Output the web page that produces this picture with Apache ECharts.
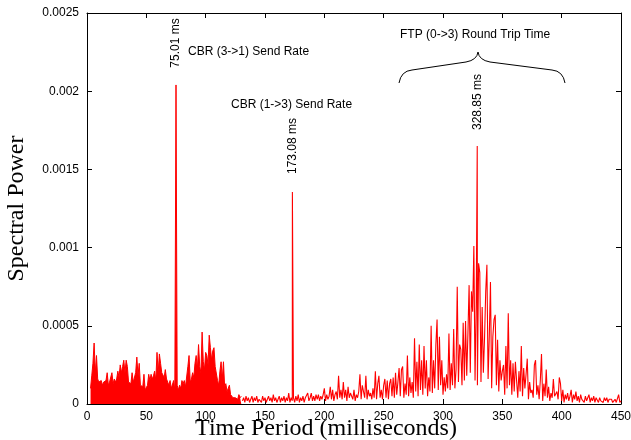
<!DOCTYPE html>
<html><head><meta charset="utf-8">
<script src="https://cdn.jsdelivr.net/npm/echarts@6.0.0/dist/echarts.min.js"></script>
<style>html,body{margin:0;padding:0;background:#fff}#c{width:631px;height:440px}</style>
</head><body><div id="c"></div>
<script>
// Low band (dense, filled region): time period from lowStart ms, 1 ms apart; power in units of 1e-5
const lowStart = 3;
const lowBandE5 = [
  10,18,26,39,20,31,16,14,
  13,15,12,14,13,15,20,12,14,13,
  20,13,16,14,16,21,17,25,20,24,
  28,20,28,24,14,15,13,20,14,15,
  20,30,18,26,12,13,11,19,9,10,
  12,19,15,19,16,18,21,15,33,20,
  32,26,20,21,17,22,16,15,12,15,
  10,11,15,9,10,12,9,12,10,15,
  13,15,11,12,24,31,14,16,20,17,
  26,31,22,38,24,20,46,27,22,33,
  31,25,44,36,28,34,36,24,25,15,
  12,21,27,16,27,11,13,8,8,12,
  6,6,4,5,4,5,3,6,4,5
];
// High band (line region): time period from highStart ms, 1 ms apart; power in units of 1e-5
const highStart = 131;
const highBandE5 = [
  2,4,1,5,2,4,1,3,5,1,
  4,2,5,1,3,4,1,5,2,4,
  1,3,5,2,4,1,6,2,4,1,
  3,5,1,4,2,5,1,4,2,7,
  1,4,2,4,1,5,2,6,1,4,
  2,5,1,4,5,7,2,4,7,2,
  5,2,6,3,6,2,5,3,6,10,
  2,6,3,5,11,3,9,2,6,8,
  3,18,4,9,3,14,4,9,2,11,
  4,7,8,3,9,2,6,4,8,19,
  3,12,11,4,18,3,9,5,7,3,
  10,4,21,3,13,18,4,9,3,12,
  16,4,15,3,13,16,5,17,4,20,
  6,14,23,5,22,24,4,13,6,31,
  5,17,7,14,4,42,8,27,5,38,
  9,28,6,37,10,28,5,17,8,50,
  7,28,10,38,54,9,43,12,28,6,
  17,8,19,10,45,9,26,12,48,10,
  22,75,14,38,35,12,52,15,53,18,
  45,76,20,72,59,101,15,64,12,90,
  84,14,62,20,42,72,89,16,43,78,
  10,43,54,57,12,41,8,28,15,21,
  25,6,37,10,58,12,28,6,26,8,
  27,15,4,21,8,37,5,23,10,19,
  29,3,14,7,9,4,25,28,6,12,
  3,15,32,2,13,5,22,4,11,2,
  7,4,16,5,4,8,3,17,13,2,
  9,1,6,3,7,2,5,9,1,6,
  3,8,2,5,1,6,3,4,1,5,
  2,4,6,1,4,2,5,1,4,3,
  1,4,2,3,1,4,2,4,1,3,
  2,3,1,2,3,1,2,6,1,2
];
// Sharp spectral lines (ms, power in units of 1e-5)
const spikeTimes = [75.01, 173.08, 328.85];
const spikePowerE5 = [204, 135.6, 165];
const spikeLabels = ['75.01 ms', '173.08 ms', '328.85 ms'];
// Axis ticks
const xTicks = [0, 50, 100, 150, 200, 250, 300, 350, 400, 450];
const yTickLabels = ['0', '0.0005', '0.001', '0.0015', '0.002', '0.0025'];

function band(start, arr) {
  const pts = arr.map((v, i) => [start + i, v * 1e-5]);
  const end = start + arr.length - 1;
  spikeTimes.forEach((t, i) => { if (t >= start && t <= end) pts.push([t, spikePowerE5[i] * 1e-5]); });
  pts.sort((a, b) => a[0] - b[0]);
  return pts;
}
const lowPts = band(lowStart, lowBandE5);
const highPts = band(highStart, highBandE5);

const sans = 'Liberation Sans, Arial, sans-serif';
const serif = 'Liberation Serif, Times New Roman, serif';
const axisCommon = {
  axisLine: { show: true, onZero: false, lineStyle: { color: '#000', width: 1 } },
  axisTick: { show: true, inside: true, length: 5, lineStyle: { color: '#000', width: 1 } },
  splitLine: { show: false }
};
const xBase = Object.assign({ type: 'value', min: xTicks[0], max: xTicks[xTicks.length - 1], interval: xTicks[1] - xTicks[0] }, axisCommon);
const yBase = Object.assign({ type: 'value', min: 0, max: 0.0025, interval: 0.0005 }, axisCommon);

const chart = echarts.init(document.getElementById('c'), null, { renderer: 'canvas' });
const txt = (text, x, y) => ({
  type: 'text', x: x, y: y,
  style: { text: text, fill: '#000', font: '12px ' + sans, textAlign: 'left', textVerticalAlign: 'middle' }
});
const rot = (text, x, y) => ({
  type: 'text', x: x, y: y, rotation: Math.PI / 2,
  style: { text: text, fill: '#000', font: '12px ' + sans, textAlign: 'center', textVerticalAlign: 'middle' }
});
const brace = { stroke: '#000', lineWidth: 1, fill: null };

chart.setOption({
  animation: false,
  backgroundColor: '#fff',
  grid: { left: 87, right: 10, top: 13, bottom: 36, containLabel: false, outerBoundsMode: 'none' },
  xAxis: [
    Object.assign({}, xBase, {
      position: 'bottom',
      name: 'Time Period (milliseconds)', nameLocation: 'middle', nameGap: 13, nameMoveOverlap: false,
      nameTextStyle: { fontFamily: serif, fontSize: 24, color: '#000', padding: [0, 56, 0, 0] },
      axisLabel: { color: '#000', fontFamily: sans, fontSize: 12, margin: 7 }
    }),
    Object.assign({}, xBase, { position: 'top', axisLabel: { show: false } })
  ],
  yAxis: [
    Object.assign({}, yBase, {
      position: 'left',
      name: 'Spectral Power', nameLocation: 'middle', nameGap: 58, nameMoveOverlap: false,
      nameTextStyle: { fontFamily: serif, fontSize: 24, color: '#000' },
      axisLabel: { color: '#000', fontFamily: sans, fontSize: 12, margin: 8,
        formatter: v => yTickLabels[Math.round(v / 0.0005)] }
    }),
    Object.assign({}, yBase, { position: 'right', axisLabel: { show: false } })
  ],
  series: [{
    type: 'line', data: lowPts, showSymbol: false, symbol: 'none',
    lineStyle: { color: '#ff0000', width: 1 },
    areaStyle: { color: '#ff0000', opacity: 1 }
  }, {
    type: 'line', data: highPts, showSymbol: false, symbol: 'none',
    lineStyle: { color: '#ff0000', width: 1.1 }
  }],
  graphic: [
    rot(spikeLabels[0], 175.5, 43),
    txt('CBR (3->1) Send Rate', 188, 52),
    txt('CBR (1->3) Send Rate', 231, 105),
    rot(spikeLabels[1], 292.5, 146),
    txt('FTP (0->3) Round Trip Time', 400, 35),
    rot(spikeLabels[2], 477.5, 102),
    { type: 'bezierCurve', shape: { x1: 399, y1: 83, cpx1: 401, cpy1: 71, x2: 412, y2: 70 }, style: brace },
    { type: 'line', shape: { x1: 412, y1: 70, x2: 466, y2: 62 }, style: brace },
    { type: 'bezierCurve', shape: { x1: 466, y1: 62, cpx1: 477, cpy1: 60, x2: 478, y2: 52 }, style: brace },
    { type: 'bezierCurve', shape: { x1: 478, y1: 52, cpx1: 479, cpy1: 60, x2: 490, y2: 62 }, style: brace },
    { type: 'line', shape: { x1: 490, y1: 62, x2: 552, y2: 70 }, style: brace },
    { type: 'bezierCurve', shape: { x1: 552, y1: 70, cpx1: 563, cpy1: 71, x2: 565, y2: 83 }, style: brace }
  ]
});
</script>
</body></html>
